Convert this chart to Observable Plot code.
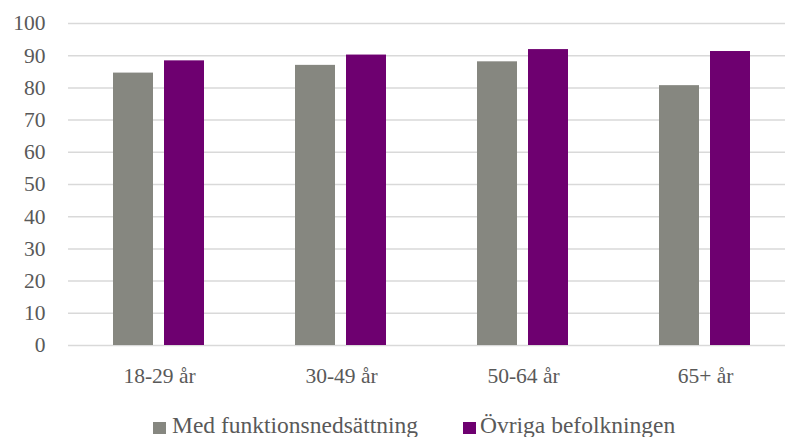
<!DOCTYPE html>
<html>
<head>
<meta charset="utf-8">
<script src="https://cdn.jsdelivr.net/npm/d3@7"></script>
<script src="https://cdn.jsdelivr.net/npm/@observablehq/plot@0.6"></script>
<style>
  html, body { margin: 0; padding: 0; background: #fff; overflow: hidden; }
  #wrap { position: relative; width: 785px; height: 437px; overflow: hidden; background: #fff; }
  #chart { position: absolute; left: 0; top: 0; width: 797px; }
  #chart svg { max-width: none !important; }
  .leg { position: absolute; top: 414px; font-family: "Liberation Serif", serif; font-size: 23.5px; line-height: 1; color: #595959; white-space: nowrap; }
  .sw { position: absolute; width: 13px; height: 12px; top: 422px; }
</style>
</head>
<body>
<div id="wrap">
  <div id="chart"></div>
</div>
<script>
const groups = ["18-29 år", "30-49 år", "50-64 år", "65+ år"];
const seriesNames = ["Med funktionsnedsättning", "Övriga befolkningen"];
const withDisability = [84.6, 87.0, 88.1, 80.7];
const restOfPopulation = [88.4, 90.2, 91.9, 91.3];
const yTicks = [0, 10, 20, 30, 40, 50, 60, 70, 80, 90, 100];
const colors = ["#868780", "#6e0070"];

const data = groups.flatMap((g, i) => [
  {group: g, series: seriesNames[0], value: withDisability[i]},
  {group: g, series: seriesNames[1], value: restOfPopulation[i]}
]);

const chart = Plot.plot({
  width: 797,
  height: 400,
  marginLeft: 66,
  marginRight: 0,
  marginTop: 23,
  marginBottom: 55,
  style: {fontFamily: "Liberation Serif", fontSize: "21.5px", color: "#595959", background: "transparent", maxWidth: "none"},
  y: {domain: [0, 100], ticks: yTicks, tickSize: 0, tickPadding: 23, label: null},
  fx: {domain: groups, padding: 0, tickSize: 0, tickPadding: 22, label: null},
  x: {domain: seriesNames, paddingInner: 0.2115, paddingOuter: 0.863, axis: null},
  color: {domain: seriesNames, range: colors},
  marks: [
    Plot.ruleY(yTicks, {stroke: "#d9d9d9", strokeWidth: 1.5}),
    Plot.barY(data, {fx: "group", x: "series", y: "value", fill: "series"})
  ]
});
document.getElementById("chart").appendChild(chart);

// Legend
const wrap = document.getElementById("wrap");
const legendPos = [{sw: 153, tx: 172}, {sw: 463, tx: 480}];
seriesNames.forEach((name, i) => {
  const sw = document.createElement("div");
  sw.className = "sw";
  sw.style.left = legendPos[i].sw + "px";
  sw.style.background = colors[i];
  wrap.appendChild(sw);
  const t = document.createElement("div");
  t.className = "leg";
  t.style.left = legendPos[i].tx + "px";
  t.textContent = name;
  wrap.appendChild(t);
});
</script>
</body>
</html>
